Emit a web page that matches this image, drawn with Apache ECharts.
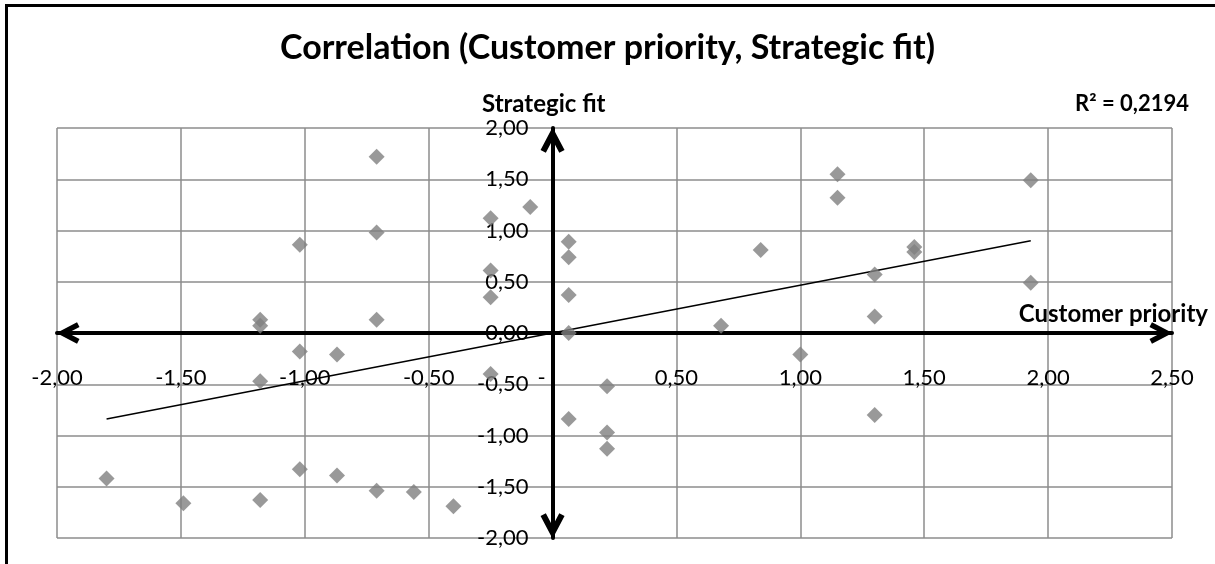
<!DOCTYPE html>
<html>
<head>
<meta charset="utf-8">
<script src="https://cdn.jsdelivr.net/npm/echarts@6/dist/echarts.min.js"></script>
<style>html,body{margin:0;padding:0;background:#fff;}#c{width:1215px;height:564px;}</style>
</head>
<body>
<div id="c"></div>
<script>
// Customer priority (x) values
const customerPriority = [
  -0.71, -0.09, -0.25, -0.71, -1.02, 0.065, 0.065, -0.25, -0.25, 0.065,
  -1.18, -1.18, -0.71, 0.065, -1.02, -0.87, -1.18, -0.25, 0.22, 0.065,
  0.22, 0.22, 1.30, 1.00, 0.68, 1.30, 1.30, 0.84, 1.46, 1.46,
  1.93, 1.93, 1.15, 1.15, -1.80, -1.49, -1.18, -1.02, -0.87, -0.71,
  -0.56, -0.40
];
// Strategic fit (y) values
const strategicFit = [
  1.72, 1.23, 1.12, 0.98, 0.86, 0.89, 0.74, 0.61, 0.35, 0.37,
  0.13, 0.07, 0.13, 0.00, -0.18, -0.21, -0.47, -0.40, -0.52, -0.84,
  -0.97, -1.13, -0.80, -0.21, 0.07, 0.16, 0.57, 0.81, 0.84, 0.79,
  0.49, 1.49, 1.55, 1.32, -1.42, -1.66, -1.63, -1.33, -1.39, -1.54,
  -1.55, -1.69
];
// Linear trendline endpoints
const trendX = [-1.80, 1.93];
const trendY = [-0.84, 0.90];
const titleText = 'Correlation (Customer priority, Strategic fit)';
const xName = 'Customer priority';
const yName = 'Strategic fit';
const rSquaredText = 'R² = 0,2194';

const points = customerPriority.map((x, i) => [x, strategicFit[i]]);
const trend = trendX.map((x, i) => [x, trendY[i]]);

const FONT = 'Lato, "Noto Sans", sans-serif';
const fmt = v => v.toFixed(2).replace('.', ',');
const chev = 'path://M12,0 L22,19 L17.6,21.3 L12,10.6 L6.4,21.3 L2,19 Z';

const W = 1215, H = 564;
const G = {left: 57, right: 43, top: 128, bottom: 26};
const X_MIN = -2, X_MAX = 2.5, Y_MIN = -2, Y_MAX = 2;
const plotW = W - G.left - G.right, plotH = H - G.top - G.bottom;
// shift axes so they cross at zero
const xAxisOffset = -(plotH * (0 - Y_MIN) / (Y_MAX - Y_MIN));
const yAxisOffset = -(plotW * (0 - X_MIN) / (X_MAX - X_MIN));

const chart = echarts.init(document.getElementById('c'), null, {renderer: 'canvas'});
chart.setOption({
  backgroundColor: '#ffffff',
  animation: false,
  textStyle: {fontFamily: FONT},
  title: [
    {text: titleText, left: 'center', top: 31, padding: 0, textStyle: {fontFamily: FONT, fontSize: 34, fontWeight: 'bold', color: '#000'}},
    {text: yName, left: 482, top: 92, padding: 0, textStyle: {fontFamily: FONT, fontSize: 24, fontWeight: 'bold', color: '#000'}},
    {text: rSquaredText, right: 26, top: 93, padding: 0, textStyle: {fontFamily: FONT, fontSize: 22, fontWeight: 'bold', color: '#000'}},
    {text: xName, right: 7, top: 302, padding: 0, textStyle: {fontFamily: FONT, fontSize: 24, fontWeight: 'bold', color: '#000'}}
  ],
  grid: Object.assign({containLabel: false, outerBoundsMode: 'none'}, G),
  xAxis: {
    type: 'value', min: X_MIN, max: X_MAX, interval: 0.5, position: 'bottom', offset: xAxisOffset,
    axisLine: {onZero: false, lineStyle: {color: '#000', width: 4}, symbol: [chev, chev], symbolSize: [22, 23], symbolOffset: [11, -11]},
    axisTick: {show: false},
    axisLabel: {margin: 34, fontFamily: FONT, fontSize: 22, color: '#000', formatter: v => (Math.abs(v) < 1e-9 ? '-\u2002\u2002' : fmt(v))},
    splitLine: {show: true, lineStyle: {color: '#8c8c8c', width: 1.5}}
  },
  yAxis: {
    type: 'value', min: Y_MIN, max: Y_MAX, interval: 0.5, position: 'left', offset: yAxisOffset,
    axisLine: {onZero: false, lineStyle: {color: '#000', width: 4}, symbol: [chev, chev], symbolSize: [24, 26], symbolOffset: [12, -12]},
    axisTick: {show: false},
    axisLabel: {margin: 24, fontFamily: FONT, fontSize: 22, color: '#000', formatter: v => fmt(v)},
    splitLine: {show: true, lineStyle: {color: '#8c8c8c', width: 1.5}}
  },
  series: [
    {
      type: 'line', data: trend, showSymbol: false, symbol: 'none',
      lineStyle: {color: '#000', width: 1.5}, z: 3, silent: true
    },
    {
      type: 'scatter', data: points, symbol: 'diamond', symbolSize: 16,
      itemStyle: {color: '#808080'}, z: 4
    }
  ],
  graphic: [
    {type: 'line', shape: {x1: 6.5, y1: 4, x2: 6.5, y2: 564}, style: {stroke: '#000', lineWidth: 3}},
    {type: 'line', shape: {x1: 5, y1: 5.5, x2: 1215, y2: 5.5}, style: {stroke: '#000', lineWidth: 3}}
  ]
});
</script>
</body>
</html>
